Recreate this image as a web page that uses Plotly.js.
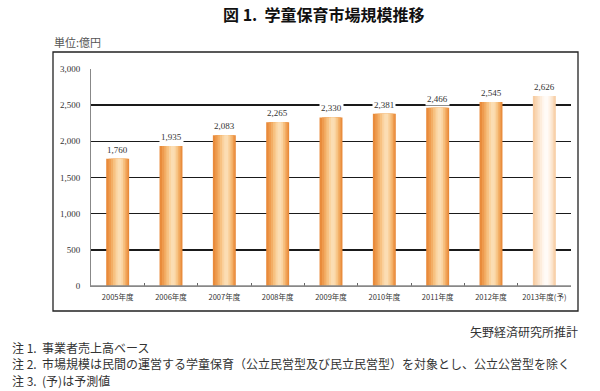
<!DOCTYPE html>
<html>
<head>
<meta charset="utf-8">
<script src="https://cdn.plot.ly/plotly-3.0.1.min.js"></script>
<style>
  html, body { margin: 0; padding: 0; background: #ffffff; }
  #chart { width: 600px; height: 391px; }
</style>
</head>
<body>
<div id="chart"></div>
<script>
// ---- data ----
const categories = ["2005年度", "2006年度", "2007年度", "2008年度", "2009年度", "2010年度", "2011年度", "2012年度", "2013年度(予)"];
const marketSize = [1760, 1935, 2083, 2265, 2330, 2381, 2466, 2545, 2626];
const isForecast = [false, false, false, false, false, false, false, false, true];
const yTickVals = [0, 500, 1000, 1500, 2000, 2500, 3000];
const yTickText = ["0", "500", "1,000", "1,500", "2,000", "2,500", "3,000"];
const titleText = "図 1.&nbsp;&nbsp;学童保育市場規模推移";
const unitText = "単位:億円";
const sourceText = "矢野経済研究所推計";
const notes = [
  "注 1.&nbsp;&nbsp;事業者売上高ベース",
  "注 2.&nbsp;&nbsp;市場規模は民間の運営する学童保育（公立民営型及び民立民営型）を対象とし、公立公営型を除く",
  "注 3.&nbsp;&nbsp;(予)は予測値"
];

// ---- style: layered bars to imitate a cylinder gradient ----
const layers = [
  { w: 0.43, shift: 0.000, actual: "#E98B3B", forecast: "#F8CDA3" },
  { w: 0.36, shift: 0.010, actual: "#EE9B4E", forecast: "#F9D7B5" },
  { w: 0.29, shift: 0.018, actual: "#F3AE66", forecast: "#FBE2C9" },
  { w: 0.22, shift: 0.024, actual: "#F7C282", forecast: "#FDEDDC" },
  { w: 0.14, shift: 0.030, actual: "#FAD3A0", forecast: "#FFF6EE" },
  { w: 0.07, shift: 0.034, actual: "#FBDDB3", forecast: "#FFFBF7" }
];

const fmt = v => v.toLocaleString("en-US");

const traces = layers.map(L => ({
  type: "bar",
  x: categories,
  y: marketSize,
  width: L.w,
  offset: -L.w / 2 + L.shift,
  marker: { color: isForecast.map(f => f ? L.forecast : L.actual), line: { width: 0 } },
  hoverinfo: "skip",
  showlegend: false
}));

const serif = "'Liberation Serif', 'Noto Sans CJK JP', serif";
const cjk = "'Noto Sans CJK JP', 'Liberation Serif', sans-serif";

const annotations = categories.map((c, i) => ({
  x: c, y: marketSize[i], xref: "x", yref: "y",
  text: fmt(marketSize[i]),
  showarrow: false, yshift: 9,
  bgcolor: "#ffffff", borderpad: 1,
  font: { family: serif, size: 9, color: "#333333" }
}));

// plot area: x 91..571, y 69..286
const L0 = 91, R0 = 571, T0 = 69, B0 = 286;
const px = x => (x - L0) / (R0 - L0);
const py = y => (B0 - y) / (B0 - T0);

annotations.push({
  xref: "paper", yref: "paper", x: px(52), y: py(42), xanchor: "left", yanchor: "middle",
  text: unitText, showarrow: false, font: { family: cjk, size: 11, color: "#555555" }
});
annotations.push({
  xref: "paper", yref: "paper", x: px(580), y: py(331), xanchor: "right", yanchor: "middle",
  text: sourceText, showarrow: false, font: { family: cjk, size: 12, color: "#333333" }
});
const noteY = [347, 363, 380];
notes.forEach((n, i) => annotations.push({
  xref: "paper", yref: "paper", x: px(10), y: py(noteY[i]), xanchor: "left", yanchor: "middle",
  text: n, showarrow: false, font: { family: cjk, size: 12, color: "#333333" }
}));

const layout = {
  width: 600, height: 391,
  margin: { l: L0, r: 600 - R0, t: T0, b: 391 - B0, pad: 0 },
  paper_bgcolor: "#ffffff", plot_bgcolor: "#ffffff",
  barmode: "overlay",
  title: {
    text: titleText, xref: "container", yref: "container",
    x: 223 / 600, xanchor: "left", y: 1 - 15 / 391, yanchor: "middle",
    font: { family: cjk, size: 16, color: "#111111", weight: "bold" }
  },
  xaxis: {
    type: "category",
    showgrid: false, zeroline: false,
    showline: true, linecolor: "#888888", linewidth: 1,
    ticks: "inside", tickson: "boundaries", ticklen: 3, tickcolor: "#666666",
    tickangle: 0, ticklabelstandoff: 4,
    tickfont: { family: cjk, size: 7.5, color: "#333333" },
    fixedrange: true
  },
  yaxis: {
    range: [0, 3000],
    tickvals: yTickVals, ticktext: yTickText,
    showgrid: true, gridcolor: "#1a1a1a", gridwidth: 1.5,
    zeroline: false,
    showline: true, linecolor: "#888888", linewidth: 1,
    ticks: "", ticklabelstandoff: 8,
    tickfont: { family: serif, size: 9, color: "#333333" },
    fixedrange: true
  },
  annotations: annotations,
  shapes: [{
    type: "rect", xref: "paper", yref: "paper",
    x0: px(53), x1: px(578), y0: py(311), y1: py(52),
    line: { color: "#222222", width: 1.3 }, fillcolor: "rgba(0,0,0,0)", layer: "below"
  }, {
    type: "line", xref: "paper", yref: "paper",
    x0: 0, x1: 1, y0: 0, y1: 0,
    line: { color: "#888888", width: 1.5 }, layer: "above"
  }]
};

Plotly.newPlot("chart", traces, layout, { displayModeBar: false, staticPlot: true });
</script>
</body>
</html>
